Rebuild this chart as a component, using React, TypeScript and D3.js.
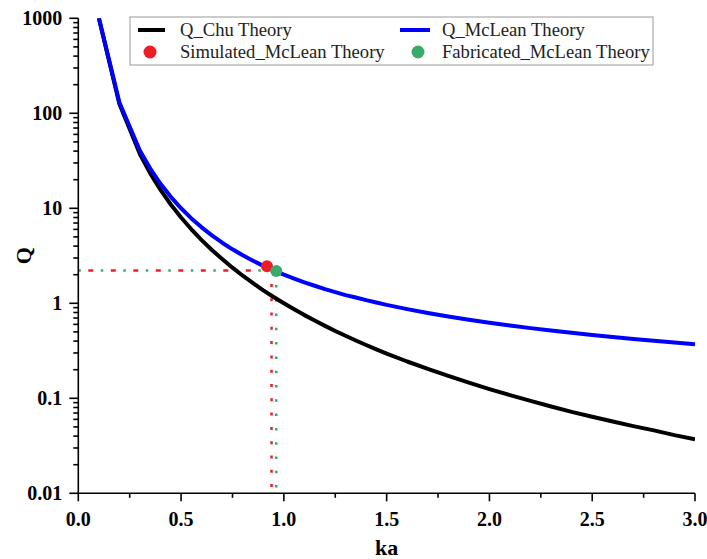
import React from "react";
import * as d3 from "d3";

const ka = [0.1, 0.2, 0.3, 0.35, 0.4, 0.45, 0.5, 0.55, 0.6, 0.65, 0.7, 0.75, 0.8, 0.85, 0.9, 0.95, 1.0, 1.05, 1.1, 1.15, 1.2, 1.25, 1.3, 1.35, 1.4, 1.45, 1.5, 1.6, 1.7, 1.8, 1.9, 2.0, 2.1, 2.2, 2.3, 2.4, 2.5, 2.6, 2.7, 2.8, 2.9, 3.0];
const qChu = [1000, 125, 37.0, 23.3, 15.6, 10.97, 8.0, 6.01, 4.63, 3.64, 2.92, 2.37, 1.95, 1.63, 1.37, 1.166, 1.0, 0.864, 0.751, 0.658, 0.579, 0.512, 0.455, 0.406, 0.364, 0.328, 0.296, 0.244, 0.204, 0.172, 0.146, 0.125, 0.108, 0.094, 0.082, 0.072, 0.064, 0.057, 0.051, 0.046, 0.041, 0.037];
const qMcLean = [1010, 130, 40.4, 26.2, 18.1, 13.2, 10.0, 7.83, 6.30, 5.18, 4.34, 3.70, 3.20, 2.80, 2.48, 2.22, 2.0, 1.82, 1.66, 1.53, 1.41, 1.31, 1.22, 1.15, 1.08, 1.02, 0.963, 0.869, 0.792, 0.727, 0.672, 0.625, 0.584, 0.548, 0.517, 0.489, 0.464, 0.442, 0.421, 0.403, 0.386, 0.370];

const simulated = { ka: 0.918, q: 2.45 };
const fabricated = { ka: 0.963, q: 2.19 };
const guideQ = 2.22;
const guideRedKa = 0.94;
const guideGreenKa = 0.963;
const guideTopQ = 1.6;

const xTicks = [0, 0.5, 1.0, 1.5, 2.0, 2.5, 3.0];
const xMinor = [0.25, 0.75, 1.25, 1.75, 2.25, 2.75];
const yTicks = [0.01, 0.1, 1, 10, 100, 1000];
const yTickLabels = ["0.01", "0.1", "1", "10", "100", "1000"];

const legendItems = ["Q_Chu Theory", "Q_McLean Theory", "Simulated_McLean Theory", "Fabricated_McLean Theory"];

const W = 707, H = 559;
const L = 78.3, R = 695, T = 18.3, B = 493.3;

export default function App() {
  const x = d3.scaleLinear().domain([0, 3]).range([L, R]);
  const y = d3.scaleLog().domain([0.01, 1000]).range([B, T]);

  const line = d3.line<number>().x((_, i) => x(ka[i])).y((d) => y(d));

  const yMinor: number[] = [];
  for (let e = -2; e < 3; e++) {
    for (let m = 2; m <= 9; m++) yMinor.push(m * Math.pow(10, e));
  }

  const serif = "'Liberation Serif', 'Times New Roman', serif";
  const red = "#ee1c25";
  const green = "#3aaa6a";

  return (
    <svg width={W} height={H} style={{ position: "absolute", left: 0, top: 0, background: "#fff" }}>
      <defs>
        <clipPath id="plot">
          <rect x={L} y={T} width={R - L} height={B - T} />
        </clipPath>
      </defs>

      {/* guide lines */}
      <line x1={L} x2={x(simulated.ka)} y1={y(guideQ)} y2={y(guideQ)} stroke={red} strokeWidth={2.5} strokeDasharray="5 17.5" strokeDashoffset={-10} />
      <line x1={L} x2={x(fabricated.ka)} y1={y(guideQ)} y2={y(guideQ)} stroke={green} strokeWidth={2.5} strokeDasharray="2.5 20" strokeDashoffset={0} />
      <line x1={x(guideRedKa)} x2={x(guideRedKa)} y1={y(guideTopQ)} y2={B} stroke={red} strokeWidth={2.5} strokeDasharray="3 11.3" />
      <line x1={x(guideGreenKa)} x2={x(guideGreenKa)} y1={y(guideTopQ)} y2={B} stroke={green} strokeWidth={2.5} strokeDasharray="2.5 11.8" strokeDashoffset={-1} />

      <g clipPath="url(#plot)">
        <path d={line(qChu) || ""} fill="none" stroke="#000" strokeWidth={4} strokeLinejoin="round" />
        <path d={line(qMcLean) || ""} fill="none" stroke="#0000ff" strokeWidth={4} strokeLinejoin="round" />
      </g>

      <circle cx={x(simulated.ka)} cy={y(simulated.q)} r={6} fill={red} />
      <circle cx={x(fabricated.ka)} cy={y(fabricated.q)} r={6} fill={green} />

      {/* axes */}
      <g stroke="#000" strokeWidth={1.6}>
        <line x1={L} x2={L} y1={T} y2={B + 0.8} />
        <line x1={L - 0.8} x2={R} y1={B} y2={B} />
        {yTicks.map((t) => (
          <line key={"yt" + t} x1={L - 9} x2={L} y1={y(t)} y2={y(t)} />
        ))}
        {yMinor.map((t) => (
          <line key={"ym" + t} x1={L - 5} x2={L} y1={y(t)} y2={y(t)} />
        ))}
        {xTicks.map((t) => (
          <line key={"xt" + t} x1={x(t)} x2={x(t)} y1={B} y2={B + 8} />
        ))}
        {xMinor.map((t) => (
          <line key={"xm" + t} x1={x(t)} x2={x(t)} y1={B} y2={B + 4.5} />
        ))}
      </g>

      <g fontFamily={serif} fontWeight="bold" fontSize={20} fill="#000">
        {yTicks.map((t, i) => (
          <text key={"yl" + t} x={L - 16} y={y(t)} dy="0.35em" textAnchor="end">{yTickLabels[i]}</text>
        ))}
        {xTicks.map((t) => (
          <text key={"xl" + t} x={x(t)} y={525.5} textAnchor="middle">{t.toFixed(1)}</text>
        ))}
        <text x={(L + R) / 2} y={555} textAnchor="middle" fontSize={22}>ka</text>
        <text transform={`translate(31,${(T + B) / 2}) rotate(-90)`} textAnchor="middle" fontSize={22}>Q</text>
      </g>

      {/* legend */}
      <g fontFamily={serif} fontSize={18.6} fill="#222">
        <rect x={130} y={17} width={523} height={48} fill="#fff" stroke="#999" strokeWidth={1} />
        <line x1={138} x2={165} y1={30} y2={30} stroke="#000" strokeWidth={4} />
        <text x={180} y={36}>{legendItems[0]}</text>
        <line x1={400} x2={430} y1={30} y2={30} stroke="#0000ff" strokeWidth={4} />
        <text x={442} y={36}>{legendItems[1]}</text>
        <circle cx={150} cy={52} r={6.5} fill={red} />
        <text x={180} y={58}>{legendItems[2]}</text>
        <circle cx={418} cy={52} r={6.5} fill={green} />
        <text x={442} y={58}>{legendItems[3]}</text>
      </g>
    </svg>
  );
}
